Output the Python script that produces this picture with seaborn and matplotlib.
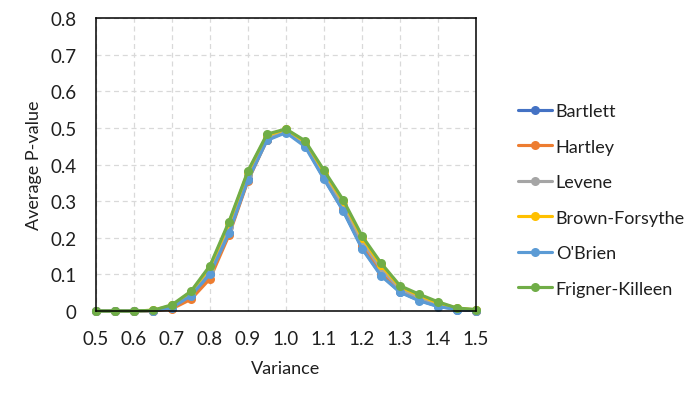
import matplotlib
matplotlib.use("Agg")
import matplotlib.pyplot as plt
import seaborn as sns
import pandas as pd

variance = [0.50, 0.55, 0.60, 0.65, 0.70, 0.75, 0.80, 0.85, 0.90, 0.95, 1.00,
            1.05, 1.10, 1.15, 1.20, 1.25, 1.30, 1.35, 1.40, 1.45, 1.50]

bartlett = [0, 0, 0, 0.001, 0.009, 0.040, 0.100, 0.213, 0.360, 0.468, 0.489,
            0.452, 0.362, 0.275, 0.172, 0.098, 0.052, 0.029, 0.013, 0.004, 0.001]
hartley = [0, 0, 0, 0.000, 0.006, 0.032, 0.088, 0.207, 0.356, 0.467, 0.490,
           0.455, 0.368, 0.283, 0.180, 0.105, 0.057, 0.033, 0.015, 0.005, 0.001]
levene = [0, 0, 0, 0.001, 0.012, 0.048, 0.113, 0.228, 0.370, 0.475, 0.493,
          0.458, 0.372, 0.290, 0.190, 0.115, 0.060, 0.037, 0.018, 0.006, 0.002]
brown_forsythe = [0, 0, 0, 0.002, 0.015, 0.052, 0.120, 0.240, 0.380, 0.480, 0.496,
                  0.462, 0.380, 0.300, 0.200, 0.125, 0.066, 0.043, 0.022, 0.008, 0.003]
obrien = [0, 0, 0, 0.001, 0.009, 0.042, 0.101, 0.212, 0.358, 0.466, 0.487,
          0.449, 0.360, 0.274, 0.170, 0.096, 0.051, 0.028, 0.012, 0.004, 0.001]
fligner = [0, 0, 0, 0.002, 0.017, 0.054, 0.124, 0.244, 0.383, 0.483, 0.497,
           0.465, 0.384, 0.304, 0.205, 0.131, 0.069, 0.046, 0.025, 0.008, 0.004]

series = {
    'Bartlett': bartlett,
    'Hartley': hartley,
    'Levene': levene,
    'Brown-Forsythe': brown_forsythe,
    "O'Brien": obrien,
    'Frigner-Killeen': fligner,
}
cores = ['#4472C4', '#ED7D31', '#A5A5A5', '#FFC000', '#5B9BD5', '#70AD47']

df = pd.concat([pd.DataFrame({'Variance': variance, 'P': v, 'Teste': k})
                for k, v in series.items()], ignore_index=True)

sns.set_style('white')
plt.rcParams['font.family'] = ['Lato', 'DejaVu Sans']
texto = '#1f1f1f'

fig = plt.figure(figsize=(6.97, 4.02), dpi=100)
ax = fig.add_axes([0.1377, 0.2239, 0.5453, 0.7288])

sns.lineplot(data=df, x='Variance', y='P', hue='Teste', palette=cores,
             marker='o', markersize=6.5, markeredgewidth=0, linewidth=2.25,
             sort=False, ax=ax, legend=True, clip_on=False)

ax.set_xlim(0.5, 1.5)
ax.set_ylim(0, 0.8)
ax.set_xticks([0.5, 0.6, 0.7, 0.8, 0.9, 1.0, 1.1, 1.2, 1.3, 1.4, 1.5])
ax.set_yticks([0, 0.1, 0.2, 0.3, 0.4, 0.5, 0.6, 0.7, 0.8])
ax.set_xticklabels(['0.5', '0.6', '0.7', '0.8', '0.9', '1.0', '1.1', '1.2', '1.3', '1.4', '1.5'])
ax.set_yticklabels(['0', '0.1', '0.2', '0.3', '0.4', '0.5', '0.6', '0.7', '0.8'])
ax.tick_params(labelsize=13.5, colors=texto, length=0)
ax.tick_params(axis='x', pad=14)
ax.tick_params(axis='y', pad=14)
ax.grid(True, color='#D9D9D9', linestyle=(0, (4, 3)), linewidth=0.9)
for s in ax.spines.values():
    s.set_color('black')
    s.set_linewidth(1.1)
ax.set_xlabel('Variance', fontsize=13, color=texto, labelpad=9)
ax.set_ylabel('Average P-value', fontsize=13, color=texto, labelpad=6)

handles, labels = ax.get_legend_handles_labels()
ax.legend_.remove()
fig.legend(handles, labels, loc='center left', bbox_to_anchor=(0.73, 0.5),
           frameon=False, fontsize=13, handlelength=1.9, handletextpad=0.2,
           labelspacing=1.08, borderpad=0, labelcolor=texto)

plt.savefig('out.png', dpi=100)
